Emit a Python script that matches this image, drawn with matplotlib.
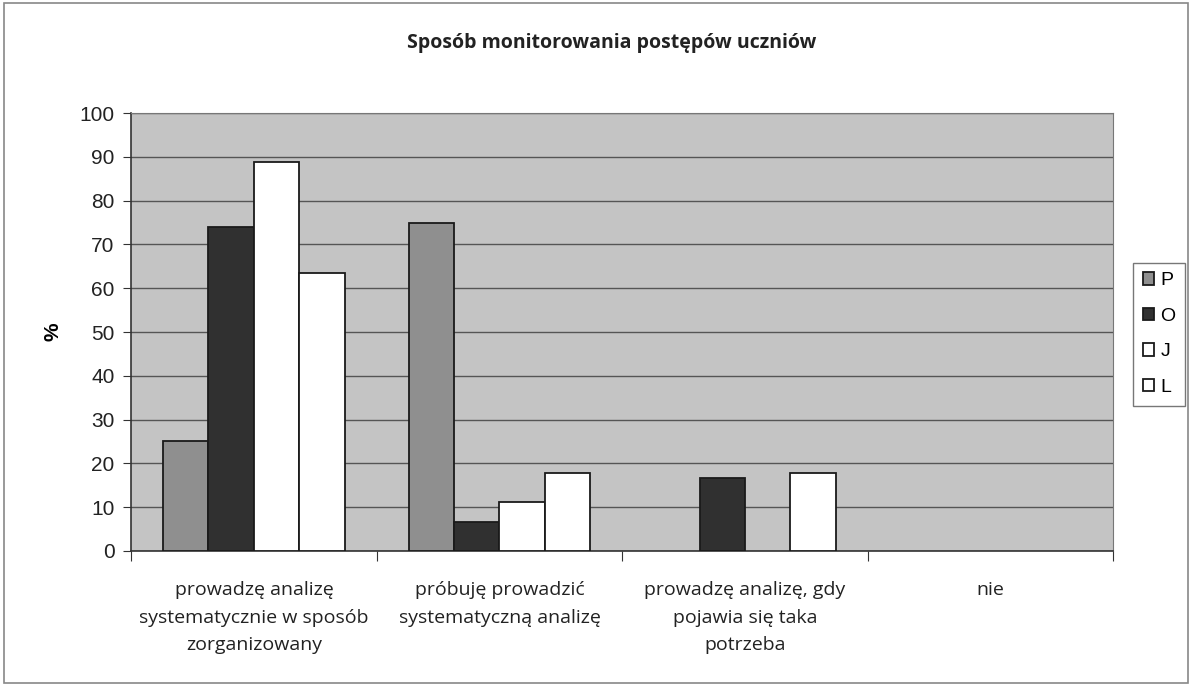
import numpy as np
import matplotlib
matplotlib.use("Agg")
import matplotlib.pyplot as plt
from matplotlib.patches import Rectangle

categories = ["prowadzę analizę\nsystematycznie w sposób\nzorganizowany",
              "próbuję prowadzić\nsystematyczną analizę",
              "prowadzę analizę, gdy\npojawia się taka\npotrzeba",
              "nie"]
series = ["P", "O", "J", "L"]
P = [25.0, 75.0, 0.0, 0.0]
O = [74.0, 6.7, 16.7, 0.0]
J = [88.9, 11.1, 0.0, 0.0]
L = [63.5, 17.8, 17.8, 0.0]
values = [P, O, J, L]
colors = ["#8f8f8f", "#303030", "#ffffff", "#ffffff"]

fig = plt.figure(figsize=(11.92, 6.86), dpi=100)
ax = fig.add_axes([0.110, 0.197, 0.824, 0.638])
ax.set_facecolor("#c4c4c4")

x = np.arange(len(categories))
w = 0.185
for i, (name, vals) in enumerate(zip(series, values)):
    v = np.array(vals)
    mask = v > 0
    ax.bar(x[mask] + (i - 1.5) * w, v[mask], width=w, color=colors[i],
           edgecolor="#1a1a1a", linewidth=1.3, label=name, zorder=3)

ax.set_ylim(0, 100)
ax.set_xlim(-0.5, 3.5)
ax.set_yticks(range(0, 101, 10))
ax.yaxis.grid(True, color="#555555", linewidth=1.0, zorder=0)
ax.set_axisbelow(True)

ax.set_xticks(np.arange(-0.5, 4.0, 1.0))
ax.set_xticklabels([])
ax.set_xticks(x, minor=True)
ax.set_xticklabels(categories, minor=True, fontsize=14, family="Open Sans",
                   color="#222222", linespacing=1.68)
ax.tick_params(axis="x", which="minor", length=0, pad=22)
ax.tick_params(axis="x", which="major", length=7, color="#333333")
ax.tick_params(axis="y", length=6, color="#333333", labelsize=15,
               labelcolor="#222222", pad=6)
for lab in ax.get_yticklabels():
    lab.set_family("Liberation Sans")

for s in ["top", "right"]:
    ax.spines[s].set_color("#777777")
for s in ["left", "bottom"]:
    ax.spines[s].set_color("#333333")
    ax.spines[s].set_linewidth(1.2)

ax.set_ylabel("%", fontsize=15, fontweight="bold", family="Liberation Sans",
              labelpad=12)
fig.text(0.513, 0.937, "Sposób monitorowania postępów uczniów", ha="center",
         va="center", fontsize=14, fontweight="bold", family="Open Sans",
         color="#222222")

leg = ax.legend(loc="center left", bbox_to_anchor=(1.020, 0.495), frameon=True,
                fancybox=False, edgecolor="#555555",
                prop={"family": "Liberation Sans", "size": 14},
                handlelength=0.6, handleheight=0.6, handletextpad=0.3,
                labelspacing=0.95, borderpad=0.5, borderaxespad=0)
leg.get_frame().set_linewidth(1.0)

fig.patches.append(Rectangle((0.003, 0.004), 0.994, 0.992, transform=fig.transFigure,
                             fill=False, edgecolor="#888888", linewidth=1.2))

fig.savefig("out.png", dpi=100)
